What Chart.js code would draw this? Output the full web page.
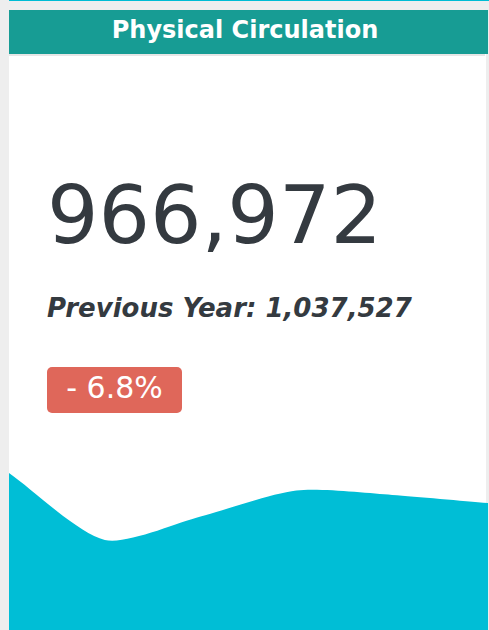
<!DOCTYPE html>
<html>
<head>
<meta charset="utf-8">
<script src="https://cdn.jsdelivr.net/npm/chart.js@4"></script>
<style>
  html, body { margin: 0; padding: 0; }
  body { width: 489px; height: 630px; background: #eeeeee; position: relative; overflow: hidden; font-family: 'DejaVu Sans', sans-serif; }
  #topLine { position: absolute; left: 9px; top: 0; width: 480px; height: 1px; background: #00bcd4; }
  #card { position: absolute; left: 9px; top: 10px; width: 477px; height: 640px; background: #ffffff; }
  #header { position: absolute; left: 9px; top: 10px; width: 479px; height: 44px; background: #179c94; }
  #headerShadow { position: absolute; left: 9px; top: 54px; width: 476px; height: 2px; background: #e6e6e6; }
  .txt { position: absolute; white-space: nowrap; line-height: 1; color: #343a40; }
  #title { left: 9px; width: 472px; top: 17.7px; text-align: center; color: #ffffff; font-weight: bold; font-size: 24px; }
  #bigNum { left: 47px; top: 174.5px; font-size: 81px; }
  #prevYear { left: 47px; top: 295px; font-size: 26px; font-weight: bold; font-style: italic; }
  #badge { position: absolute; left: 47px; top: 367px; width: 135px; height: 46px; border-radius: 5px; background: #df675a; color: #ffffff; font-size: 30px; line-height: 41px; text-align: center; }
  #chartBox { position: absolute; left: 9px; top: 440px; width: 479px; height: 190px; }
</style>
</head>
<body>
<div id="topLine"></div>
<div id="card"></div>
<div id="header"></div>
<div id="headerShadow"></div>
<div class="txt" id="title">Physical Circulation</div>
<div class="txt" id="bigNum">966,972</div>
<div class="txt" id="prevYear">Previous Year: 1,037,527</div>
<div id="badge">- 6.8%</div>
<div id="chartBox"><canvas id="myChart"></canvas></div>

<script>
'use strict';

// data (relative units, axis hidden)
let periods = ['P1', 'P2', 'P3', 'P4', 'P5', 'P6'];
let circulation = [82.6, 47.4, 59.7, 73.4, 71.1, 66.8];
let yMin = 0;
let yMax = 100;

const data = {
  labels: periods,
  datasets: [{
    label: 'Physical Circulation',
    data: circulation,
    fill: 'start',
    backgroundColor: '#00bed6',
    borderColor: '#00bed6',
    borderWidth: 0,
    pointRadius: 0,
    tension: 0.25
  }]
};

const config = {
  type: 'line',
  data: data,
  options: {
    responsive: true,
    maintainAspectRatio: false,
    animation: false,
    layout: { padding: 0 },
    plugins: { legend: { display: false }, tooltip: { enabled: false } },
    scales: {
      x: { display: false, offset: false },
      y: { display: false, min: yMin, max: yMax }
    }
  }
};

const myChart = new Chart(document.getElementById('myChart'), config);
</script>
</body>
</html>
